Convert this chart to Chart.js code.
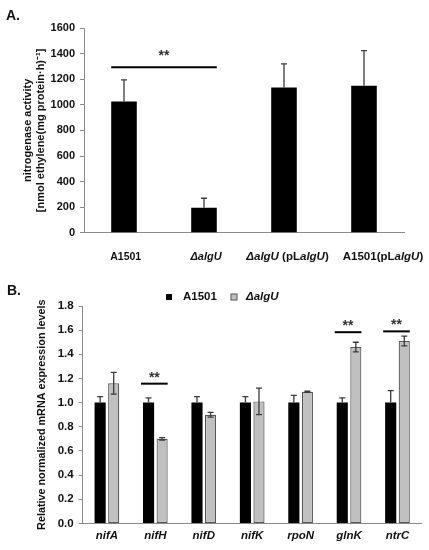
<!DOCTYPE html>
<html><head><meta charset="utf-8">
<script src="https://cdn.jsdelivr.net/npm/chart.js@4.4.1/dist/chart.umd.min.js"></script>
<style>
html,body{margin:0;padding:0;background:#fff;}
#wrapA{position:absolute;left:0;top:0;width:429px;height:270px;}
#wrapB{position:absolute;left:0;top:270px;width:429px;height:280px;}
</style></head><body>
<div id="wrapA"><canvas id="cA"></canvas></div>
<div id="wrapB"><canvas id="cB"></canvas></div>
<script>
const FONT = "'Liberation Sans', Arial, Helvetica, sans-serif";

// ---------- Panel A data ----------
const strainsA = ['A1501', 'ΔalgU', 'ΔalgU (pLalgU)', 'A1501(pLalgU)'];
const strainLabelPartsA = [
  [['A1501', false]],
  [['ΔalgU', true]],
  [['ΔalgU', true], [' (pL', false], ['algU', true], [')', false]],
  [['A1501(pL', false], ['algU', true], [')', false]]
];
const activityA = [1025, 195, 1135, 1148];
const activityErrA = [170, 75, 185, 275];
const yMinA = 0, yMaxA = 1600, yStepA = 200;
const yTitleA = ['nitrogenase activity', '[nmol ethylene(mg protein·h)⁻¹]'];
const sigA = [{ from: 0, to: 1, y: 1293, text: '**' }];

// ---------- Panel B data ----------
const genesB = ['nifA', 'nifH', 'nifD', 'nifK', 'rpoN', 'glnK', 'ntrC'];
const seriesNamesB = ['A1501', 'ΔalgU'];
const wtB = [1.00, 1.00, 1.00, 1.00, 1.00, 1.00, 1.00];
const wtErrB = [0.05, 0.04, 0.05, 0.05, 0.06, 0.04, 0.10];
const mutB = [1.16, 0.70, 0.90, 1.01, 1.09, 1.46, 1.51];
const mutErrB = [0.09, 0.01, 0.02, 0.11, 0.005, 0.04, 0.04];
const yMinB = 0, yMaxB = 1.8, yStepB = 0.2;
const yTitleB = 'Relative normalized mRNA expression levels';
const sigB = [{ cat: 1, y: 1.157, text: '**' }, { cat: 5, y: 1.583, text: '**' }, { cat: 6, y: 1.59, text: '**' }];

Chart.defaults.font.family = FONT;
Chart.defaults.color = '#111';
Chart.defaults.animation = false;

function errorBarPlugin(errs, modes, cap) {
  return {
    id: 'errBars',
    afterDatasetsDraw(chart) {
      const ctx = chart.ctx, ys = chart.scales.y;
      ctx.save();
      ctx.strokeStyle = '#3a3a3a';
      ctx.lineWidth = 1.3;
      chart.data.datasets.forEach((ds, d) => {
        const meta = chart.getDatasetMeta(d);
        meta.data.forEach((bar, i) => {
          const v = ds.data[i], e = errs[d][i];
          const yTop = ys.getPixelForValue(v + e);
          const yBot = modes[d] === 'both' ? ys.getPixelForValue(v - e) : bar.y;
          ctx.beginPath();
          ctx.moveTo(bar.x, yBot); ctx.lineTo(bar.x, yTop);
          ctx.moveTo(bar.x - cap, yTop); ctx.lineTo(bar.x + cap, yTop);
          if (modes[d] === 'both') { ctx.moveTo(bar.x - cap, yBot); ctx.lineTo(bar.x + cap, yBot); }
          ctx.stroke();
        });
      });
      ctx.restore();
    }
  };
}

function drawStars(ctx, x, yLine, text, gap) {
  ctx.save();
  ctx.fillStyle = '#333';
  ctx.font = 'bold 14px ' + FONT;
  ctx.textAlign = 'center';
  ctx.textBaseline = 'alphabetic';
  ctx.fillText(text, x, yLine - gap);
  ctx.restore();
}

// ---------- Chart A ----------
const chartA = new Chart(document.getElementById('cA'), {
  type: 'bar',
  data: {
    labels: strainsA,
    datasets: [{ label: 'activity', data: activityA, backgroundColor: '#000', borderWidth: 0,
      barPercentage: 0.32, categoryPercentage: 1.0 }]
  },
  options: {
    responsive: true, maintainAspectRatio: false,
    layout: { padding: { top: 28, right: 25, left: 0, bottom: 0 } },
    plugins: { legend: { display: false }, tooltip: { enabled: false } },
    scales: {
      x: {
        grid: { display: false, drawTicks: false },
        border: { display: true, color: '#8a8a8a', width: 1 },
        ticks: { display: false },
        afterFit: s => { s.height = 37.2; }
      },
      y: {
        min: yMinA, max: yMaxA,
        ticks: { stepSize: yStepA, font: { size: 11, weight: 'bold' }, color: '#111', padding: 5,
          callback: v => String(v) },
        grid: { drawOnChartArea: false, drawTicks: true, tickLength: 4, color: '#8a8a8a' },
        border: { display: true, color: '#8a8a8a', width: 1 },
        afterFit: s => { s.width = 84; }
      }
    }
  },
  plugins: [
    errorBarPlugin([activityErrA], ['up'], 3),
    {
      id: 'decorA',
      afterDraw(chart) {
        const ctx = chart.ctx, xs = chart.scales.x, ys = chart.scales.y, ca = chart.chartArea;
        const meta = chart.getDatasetMeta(0);
        // significance
        sigA.forEach(s => {
          const b0 = meta.data[s.from], b1 = meta.data[s.to];
          const x0 = b0.x - b0.width / 2, x1 = b1.x + b1.width / 2;
          const y = ys.getPixelForValue(s.y);
          ctx.save();
          ctx.strokeStyle = '#000'; ctx.lineWidth = 2;
          ctx.beginPath(); ctx.moveTo(x0, y); ctx.lineTo(x1, y); ctx.stroke();
          ctx.restore();
          drawStars(ctx, (x0 + x1) / 2, y, s.text, 7);
        });
        // x labels with mixed italic
        const sizes = [10.5, 11, 11.5, 11.5];
        const offs = [1.7, 2, 3.5, 19];
        ctx.save();
        ctx.fillStyle = '#111';
        ctx.textBaseline = 'middle';
        ctx.textAlign = 'left';
        strainLabelPartsA.forEach((parts, i) => {
          const fs = sizes[i];
          let total = 0;
          parts.forEach(p => { ctx.font = (p[1] ? 'italic ' : '') + 'bold ' + fs + 'px ' + FONT; total += ctx.measureText(p[0]).width; });
          let x = xs.getPixelForValue(i) + offs[i] - total / 2;
          const y = ca.bottom + 24.5;
          parts.forEach(p => {
            ctx.font = (p[1] ? 'italic ' : '') + 'bold ' + fs + 'px ' + FONT;
            ctx.fillText(p[0], x, y);
            x += ctx.measureText(p[0]).width;
          });
        });
        ctx.restore();
        // y title
        ctx.save();
        ctx.fillStyle = '#111';
        ctx.font = 'bold 11px ' + FONT;
        ctx.textAlign = 'center'; ctx.textBaseline = 'middle';
        const cy = (ca.top + ca.bottom) / 2;
        [28, 41].forEach((x, k) => {
          ctx.save(); ctx.translate(x, cy); ctx.rotate(-Math.PI / 2);
          ctx.fillText(yTitleA[k], 0, 0); ctx.restore();
        });
        // panel letter
        ctx.font = 'bold 14px ' + FONT;
        ctx.textAlign = 'left';
        ctx.fillText('A.', 6, 16);
        ctx.restore();
      }
    }
  ]
});

// ---------- Chart B ----------
const chartB = new Chart(document.getElementById('cB'), {
  type: 'bar',
  data: {
    labels: genesB,
    datasets: [
      { label: seriesNamesB[0], data: wtB, backgroundColor: '#000', borderColor: '#000', borderWidth: 0,
        barPercentage: 0.82, categoryPercentage: 0.56 },
      { label: seriesNamesB[1], data: mutB, backgroundColor: '#c0c0c0', borderColor: '#555', borderWidth: 1.2,
        borderSkipped: false, barPercentage: 0.82, categoryPercentage: 0.56 }
    ]
  },
  options: {
    responsive: true, maintainAspectRatio: false,
    layout: { padding: { top: 36, right: 7.3, left: 0, bottom: 0 } },
    plugins: { legend: { display: false }, tooltip: { enabled: false } },
    scales: {
      x: {
        grid: { display: false, drawTicks: false },
        border: { display: true, color: '#8a8a8a', width: 1 },
        ticks: { font: { size: 11.5, weight: 'bold', style: 'italic' }, color: '#111', padding: 6 },
        afterFit: s => { s.height = 26.6; }
      },
      y: {
        min: yMinB, max: yMaxB,
        ticks: { stepSize: yStepB, font: { size: 11.5, weight: 'bold' }, color: '#111', padding: 5,
          callback: v => Number(v).toFixed(1) },
        grid: { drawOnChartArea: false, drawTicks: true, tickLength: 4, color: '#8a8a8a' },
        border: { display: true, color: '#8a8a8a', width: 1 },
        afterFit: s => { s.width = 82.7; }
      }
    }
  },
  plugins: [
    errorBarPlugin([wtErrB, mutErrB], ['up', 'both'], 3),
    {
      id: 'decorB',
      afterDraw(chart) {
        const ctx = chart.ctx, ys = chart.scales.y, ca = chart.chartArea;
        const m0 = chart.getDatasetMeta(0), m1 = chart.getDatasetMeta(1);
        sigB.forEach(s => {
          const b0 = m0.data[s.cat], b1 = m1.data[s.cat];
          const x0 = b0.x - b0.width / 2 - 2, x1 = b1.x + b1.width / 2;
          const y = ys.getPixelForValue(s.y);
          ctx.save();
          ctx.strokeStyle = '#000'; ctx.lineWidth = 2;
          ctx.beginPath(); ctx.moveTo(x0, y); ctx.lineTo(x1, y); ctx.stroke();
          ctx.restore();
          drawStars(ctx, (x0 + x1) / 2, y, s.text, 2);
        });
        // legend
        ctx.save();
        ctx.textBaseline = 'middle'; ctx.textAlign = 'left';
        const ly = 27;
        ctx.fillStyle = '#000';
        ctx.fillRect(166, ly - 3, 6, 6);
        ctx.font = 'bold 11.5px ' + FONT;
        ctx.fillStyle = '#111';
        ctx.fillText(seriesNamesB[0], 183, ly);
        ctx.fillStyle = '#c0c0c0';
        ctx.fillRect(231, ly - 3, 6, 6);
        ctx.strokeStyle = '#555'; ctx.lineWidth = 1;
        ctx.strokeRect(231, ly - 3, 6, 6);
        ctx.font = 'italic bold 11.5px ' + FONT;
        ctx.fillStyle = '#111';
        ctx.fillText(seriesNamesB[1], 246, ly);
        // y title
        ctx.font = 'bold 10.8px ' + FONT;
        ctx.textAlign = 'center';
        ctx.save();
        ctx.translate(42, (ca.top + ca.bottom) / 2);
        ctx.rotate(-Math.PI / 2);
        ctx.fillText(yTitleB, 0, 0);
        ctx.restore();
        // panel letter
        ctx.font = 'bold 14px ' + FONT;
        ctx.textAlign = 'left';
        ctx.fillText('B.', 7, 21.5);
        ctx.restore();
      }
    }
  ]
});
</script>
</body></html>
